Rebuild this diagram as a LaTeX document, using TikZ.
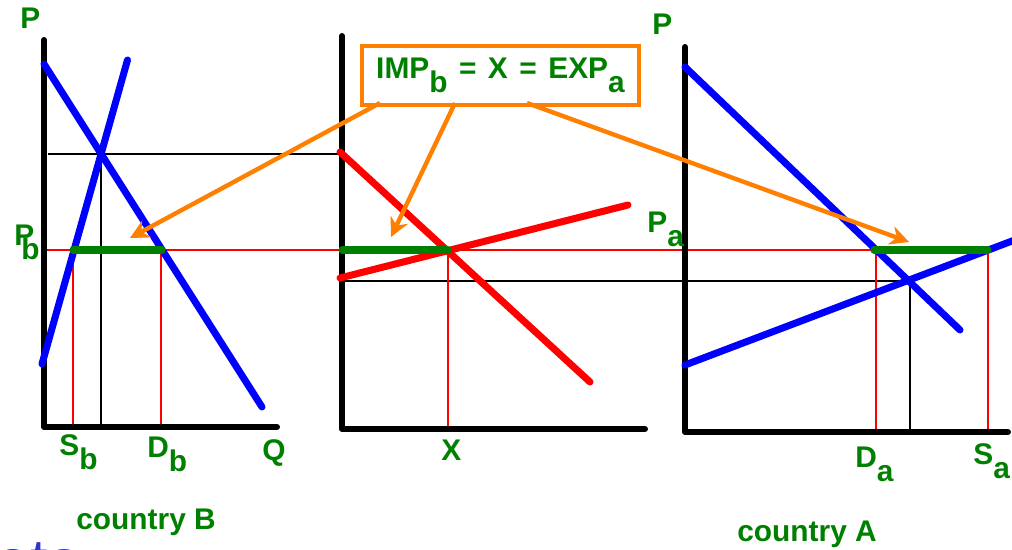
\documentclass[tikz,border=0pt]{standalone}
\usepackage{fontspec}
\setmainfont{Liberation Sans}
\usetikzlibrary{arrows.meta}
\definecolor{lblgreen}{RGB}{0,128,0}
\definecolor{arrorange}{RGB}{255,128,0}
\definecolor{txtblue}{RGB}{51,51,204}
\newcommand{\low}[1]{\raisebox{-0.45em}{#1}}

\begin{document}
\begin{tikzpicture}[x=0.02cm,y=-0.02cm,
  axis/.style={line width=3.4pt,line cap=round,line join=round},
  curve/.style={line width=4pt,line cap=round},
  guide/.style={line width=1.1pt},
  lbl/.style={text=lblgreen,font=\fontsize{17}{20}\selectfont\bfseries,inner sep=0pt,anchor=base west},
  pointer/.style={arrorange,line width=2.5pt,-{Stealth[length=3.8mm,width=3.8mm]}}]
  \useasboundingbox (0,0) rectangle (1012,550);
  % guide lines
  \draw[guide] (48,154) -- (342,154); \draw[guide] (101,154) -- (101,427);
  \draw[guide] (342,281) -- (910,281); \draw[guide] (910,281) -- (910,432);
  \draw[guide,red,line width=0.9pt] (45,250) -- (988,250);
  \draw[guide,red,line width=0.9pt] (73,250) -- (73,427) (161,250) -- (161,427) (448,250) -- (448,429) (876,250) -- (876,432) (988,250) -- (988,432);
  % axes
  \draw[axis] (44,40) -- (44,427) -- (277,427); \draw[axis] (342,36) -- (342,429) -- (645,429); \draw[axis] (685,47) -- (685,432) -- (1008,432);
  % curves
  \draw[curve,blue] (44,64) -- (262,407); \draw[curve,blue] (42,364) -- (127.5,60);
  \draw[curve,red] (340,152) -- (590,382); \draw[curve,red] (340,278) -- (628,205);
  \draw[curve,blue] (685,67) -- (960,330); \draw[curve,blue] (685,365) -- (1020,238);
  \draw[curve,lblgreen] (73,250) -- (162,250); \draw[curve,lblgreen] (342,250) -- (448,250); \draw[curve,lblgreen] (874,250) -- (988,250);
  % labels
  \node[lbl] (ptopb) at (20,29) {P}; \node[lbl] (pb) at (14,246) {P\kern-0.43em\low{b}};
  \node[lbl] (sb) at (59,456) {S\low{b}}; \node[lbl] (db) at (147,458) {D\low{b}}; \node[lbl] (q) at (262,461) {Q};
  \node[lbl] (cb) at (76,530) {country B};
  \node[lbl] (x) at (441,461) {X};
  \node[lbl] (ptopa) at (652,35) {P}; \node[lbl] (pa) at (647,233) {P\low{a}};
  \node[lbl] (da) at (855,468) {D\low{a}}; \node[lbl] (sa) at (973,465) {S\low{a}};
  \node[lbl] (ca) at (737,542) {country A};
  \node[text=txtblue,font=\fontsize{36}{44}\selectfont,inner sep=0pt,anchor=base west] (cut) at (-5,584) {ets};
  % box and arrows
  \node[draw=arrorange,line width=2.3pt,fill=white,minimum width=5.54cm,minimum height=1.18cm,inner sep=0pt,text=lblgreen,font=\fontsize{17}{20}\selectfont\bfseries] (imp) at (500.5,75.5)
    {IMP\low{b}\hspace{0.23cm}=\hspace{0.23cm}X\hspace{0.23cm}=\hspace{0.23cm}EXP\low{a}};
  \coordinate (s1) at (380,103); \coordinate (t1) at (130,238);
  \coordinate (s2) at (455,103); \coordinate (t2) at (391,237);
  \coordinate (s3) at (527,103); \coordinate (t3) at (909,242);
  \draw[pointer] (s1) -- (t1); \draw[pointer] (s2) -- (t2); \draw[pointer] (s3) -- (t3);
\end{tikzpicture}
\end{document}
